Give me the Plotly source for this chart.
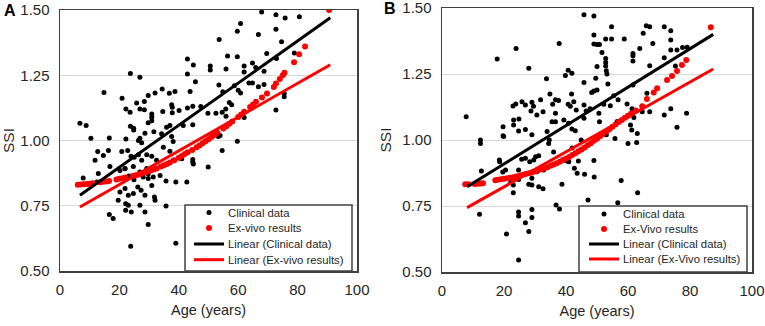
import plotly.graph_objects as go

W, H = 765, 326

# ---------------- Panel A data ----------------
a_clinical = [
    (67.9,1.492),(72.7,1.482),(75.8,1.469),(80.6,1.474),(60.8,1.448),(59.7,1.419),(72.7,1.426),
    (53.6,1.387),(66.8,1.406),(74.6,1.378),(69.6,1.333),(72.9,1.314),(78.9,1.335),(56.4,1.324),
    (59.7,1.321),(50.6,1.285),(50.6,1.270),(55.9,1.274),(62.0,1.285),(62.0,1.262),(64.8,1.297),
    (65.9,1.280),(68.7,1.265),(63.6,1.220),(64.8,1.220),(58.7,1.210),(66.8,1.206),(68.7,1.215),
    (54.8,1.187),(60.0,1.193),(60.8,1.182),(75.5,1.181),(75.5,1.168),(57.0,1.146),(57.8,1.137),
    (55.8,1.121),(72.7,1.117),(49.8,1.104),(52.5,1.104),(54.6,1.108),(55.9,1.093),(62.0,1.088),
    (59.7,0.997),(53.9,1.019),(53.5,1.213),
    (42.9,1.312),(44.9,1.289),(42.9,1.255),(23.7,1.257),(26.9,1.242),(45.6,1.225),(14.8,1.184),
    (20.9,1.162),(25.8,1.144),(28.4,1.149),(29.7,1.172),(32.0,1.182),(34.4,1.197),(36.8,1.181),
    (38.7,1.188),(43.8,1.188),(44.7,1.131),(47.4,1.130),(42.9,1.125),(37.6,1.137),(37.8,1.127),
    (34.6,1.111),(37.8,1.106),(40.1,1.115),(22.2,1.121),(23.6,1.108),(26.9,1.121),(28.4,1.118),
    (30.9,1.102),(30.9,1.089),(30.9,1.076),(29.7,1.068),(6.7,1.066),(8.8,1.057),(23.7,1.055),
    (24.8,1.047),(24.8,1.040),(28.6,1.028),(31.6,1.034),(35.9,1.051),(37.0,1.057),(41.5,1.057),
    (44.7,1.060),(10.4,1.009),(16.6,1.010),(22.2,1.006),(26.9,1.009),(34.2,1.026),(37.6,1.015),
    (26.4,1.000),(27.5,0.991),(34.8,0.974),(38.1,0.996),(12.7,0.958),(16.3,0.962),(11.8,0.924),
    (14.6,0.943),(20.8,0.958),(22.8,0.962),(23.9,0.940),(25.0,0.936),(26.4,0.945),(27.5,0.924),
    (29.2,0.945),(30.9,0.940),(32.5,0.924),(37.0,0.959),(41.0,0.930),(44.7,0.927),(44.7,0.917),
    (49.9,0.898),(7.8,0.856),(12.4,0.841),(20.2,0.885),(21.9,0.892),(23.2,0.864),(24.9,0.850),
    (26.9,0.879),(28.0,0.860),(29.7,0.873),(29.7,0.854),(31.4,0.860),(33.7,0.866),(35.7,0.845),
    (39.0,0.841),(42.7,0.841),(20.2,0.803),(21.9,0.816),(23.0,0.790),(24.7,0.797),(26.2,0.822),
    (27.3,0.809),(28.6,0.790),(30.9,0.828),(31.8,0.784),(32.0,0.771),(19.6,0.771),(22.1,0.758),
    (23.0,0.752),(22.1,0.733),(24.0,0.726),(26.9,0.752),(28.6,0.726),(35.7,0.749),(16.6,0.716),
    (17.9,0.701),(29.7,0.678),(23.8,0.595),(39.0,0.606),(38.1,0.924),(44.9,0.910),(54.6,0.962),
    (53.3,1.015),(16.8,0.900),(12.9,0.874),(21.9,0.893),(24.7,0.900),(29.2,0.893),
]
a_exvivo = [
    (6.0,0.830),(7.0,0.831),(8.0,0.832),(9.0,0.833),(10.0,0.834),(11.0,0.836),(13.5,0.840),
    (14.5,0.842),(15.5,0.843),(16.5,0.845),(19.0,0.851),(20.0,0.853),(21.0,0.855),(22.0,0.858),
    (24.5,0.864),(25.5,0.867),(26.5,0.870),(27.5,0.874),(28.5,0.877),(29.5,0.881),(30.5,0.885),
    (31.5,0.889),(32.5,0.893),(34.0,0.900),(35.0,0.905),(36.0,0.910),(37.0,0.916),(38.5,0.924),
    (40.0,0.934),(41.0,0.941),(42.0,0.948),(43.0,0.955),(44.5,0.964),(46.0,0.974),(47.0,0.981),
    (48.0,0.989),(49.0,0.997),(50.0,1.005),(51.0,1.013),(52.0,1.021),(53.0,1.030),(55.0,1.046),
    (56.0,1.055),(57.0,1.064),(58.0,1.073),(60.0,1.090),(61.0,1.100),(62.0,1.110),(64.0,1.128),
    (65.0,1.138),(66.0,1.148),(68.0,1.165),(69.7,1.180),(72.0,1.205),(72.7,1.218),(74.0,1.236),
    (75.0,1.250),(75.6,1.260),(78.8,1.300),(80.5,1.330),(82.5,1.360),(90.6,1.500),
]
a_fit_age = [6.7, 91.0]
a_fit_clinical = [0.79, 1.47]
a_fit_exvivo = [0.745, 1.29]

# ---------------- Panel B data ----------------
b_clinical = [
    (45.8,1.474),(49.0,1.470),(49.0,1.398),(23.9,1.347),(37.8,1.366),(17.8,1.307),(28.0,1.272),
    (49.0,1.364),(40.7,1.264),(41.9,1.253),(39.8,1.244),(33.7,1.232),(45.8,1.218),(49.6,1.234),
    (49.0,1.186),(48.3,1.180),(34.8,1.174),(41.8,1.174),(7.8,1.088),(23.8,1.136),(22.9,1.129),
    (25.8,1.145),(26.9,1.133),(29.0,1.143),(29.5,1.128),(31.8,1.152),(28.7,1.110),(30.6,1.095),
    (32.6,1.107),(35.7,1.135),(36.6,1.152),(37.6,1.150),(36.6,1.101),(40.7,1.135),(41.4,1.128),
    (42.5,1.145),(43.3,1.114),(45.8,1.133),(46.5,1.110),(47.8,1.118),(35.5,1.069),(36.6,1.069),
    (39.3,1.076),(40.8,1.063),(41.9,1.042),(43.0,1.035),(45.8,1.082),(23.1,1.076),(24.8,1.080),
    (23.1,1.057),(24.7,1.034),(26.9,1.040),(19.7,1.050),(19.7,1.016),(29.0,1.020),(33.9,1.032),
    (54.7,1.429),(65.9,1.433),(67.0,1.429),(71.7,1.429),(73.8,1.414),(64.9,1.404),(73.8,1.379),
    (52.8,1.383),(54.7,1.383),(58.8,1.383),(68.0,1.366),(50.0,1.362),(50.8,1.362),(63.8,1.347),
    (61.6,1.328),(61.6,1.319),(51.6,1.331),(73.8,1.341),(75.8,1.341),(77.6,1.350),(79.1,1.351),
    (71.7,1.312),(61.6,1.299),(52.8,1.309),(52.8,1.294),(52.8,1.280),(53.0,1.262),(53.2,1.250),
    (50.0,1.278),(67.0,1.281),(75.3,1.280),(53.5,1.212),(61.6,1.208),(50.0,1.189),(55.4,1.168),
    (56.8,1.152),(66.1,1.177),(59.7,1.136),(52.2,1.135),(54.3,1.130),(50.6,1.101),(61.3,1.118),
    (61.9,1.085),(64.6,1.107),(67.0,1.107),(71.7,1.095),(73.8,1.118),(78.9,1.101),(56.5,1.070),
    (60.8,1.057),(61.2,1.038),(63.0,1.025),(75.8,1.048),(55.8,1.006),(50.8,1.069),(53.0,1.020),
    (12.4,1.000),(12.4,0.987),(19.9,1.013),(18.5,0.924),(18.6,0.918),(12.7,0.883),(20.5,0.886),
    (24.7,0.886),(26.9,0.931),(28.3,0.918),(23.0,0.830),(23.0,0.800),(22.2,0.840),(24.7,0.850),
    (28.0,0.832),(29.0,0.855),(29.6,0.924),(30.2,0.937),(31.2,0.940),(30.6,0.880),(29.0,0.830),
    (31.2,0.823),(32.6,0.815),(32.8,0.886),(34.4,0.987),(34.6,1.000),(38.7,0.832),(39.8,0.924),
    (40.9,0.918),(42.7,0.893),(43.6,0.874),(46.0,0.870),(44.9,1.000),(49.0,0.922),(47.1,0.773),
    (12.1,0.719),(24.7,0.727),(24.7,0.712),(29.0,0.737),(29.0,0.706),(26.9,0.687),(28.0,0.653),
    (20.8,0.644),(36.8,0.754),(37.9,0.739),(24.7,0.545),(19.6,0.879),(49.1,0.860),(63.1,0.800),
    (57.8,0.847),(56.7,0.762),(60.0,0.987),(62.8,0.991),(25.7,0.927),(40.3,0.920),
    (44.0,0.920),(36.0,0.955),(42.0,0.970),
]
b_exvivo = [
    (7.5,0.832),(8.5,0.832),(10.5,0.833),(11.5,0.834),(12.5,0.835),(13.2,0.836),(17.2,0.848),
    (18.0,0.849),(19.0,0.851),(20.0,0.853),(21.0,0.855),(22.0,0.857),(23.0,0.859),(24.0,0.862),
    (25.0,0.865),(26.0,0.868),(27.0,0.871),(28.0,0.874),(29.0,0.877),(30.0,0.881),(31.0,0.885),
    (32.0,0.889),(33.0,0.893),(34.0,0.897),(35.0,0.902),(36.0,0.907),(37.0,0.912),(38.0,0.918),
    (39.0,0.924),(40.0,0.930),(41.0,0.936),(42.0,0.943),(43.0,0.950),(44.0,0.957),(45.0,0.964),
    (46.0,0.972),(47.0,0.980),(48.0,0.988),(49.0,0.997),(50.0,1.005),(51.0,1.014),(52.0,1.023),
    (53.0,1.032),(54.0,1.041),(55.0,1.050),(56.0,1.059),(57.0,1.068),(58.0,1.076),(59.0,1.084),
    (60.0,1.092),(61.0,1.100),(62.5,1.112),(64.6,1.128),(66.1,1.155),(68.3,1.180),(69.4,1.196),
    (72.6,1.227),(74.2,1.242),(75.8,1.261),(77.4,1.284),(78.8,1.303),(86.7,1.427),
]
b_fit_age = [8.1, 87.5]
b_fit_clinical = [0.823, 1.40]
b_fit_exvivo = [0.744, 1.269]

x_ticks = [0, 20, 40, 60, 80, 100]
y_ticks = [0.50, 0.75, 1.00, 1.25, 1.50]
a_legend_labels = ["Clinical data", "Ex-vivo results", "Linear (Clinical data)", "Linear (Ex-vivo results)"]
b_legend_labels = ["Clinical data", "Ex-Vivo results", "Linear (Clinical data)", "Linear (Ex-Vivo results)"]

FONT = "Liberation Sans, Arial, sans-serif"
TXT = "#262626"
FRAME = "#404040"


def unzip(pairs):
    return [p[0] for p in pairs], [p[1] for p in pairs]


fig = go.Figure()


def add_panel(xa, ya, labels, clinical, exvivo, fit_age, fit_clin, fit_ex):
    cx, cy = unzip(clinical)
    ex, ey = unzip(exvivo)
    fig.add_trace(go.Scatter(x=cx, y=cy, mode="markers", name=labels[0], showlegend=False,
                             marker=dict(color="black", size=5), xaxis=xa, yaxis=ya))
    fig.add_trace(go.Scatter(x=ex, y=ey, mode="markers", name=labels[1], showlegend=False,
                             marker=dict(color="#ff0000", size=6), xaxis=xa, yaxis=ya))
    fig.add_trace(go.Scatter(x=fit_age, y=fit_clin, mode="lines", name=labels[2], showlegend=False,
                             line=dict(color="black", width=3), xaxis=xa, yaxis=ya))
    fig.add_trace(go.Scatter(x=fit_age, y=fit_ex, mode="lines", name=labels[3], showlegend=False,
                             line=dict(color="#ff0000", width=3), xaxis=xa, yaxis=ya))


add_panel("x", "y", a_legend_labels, a_clinical, a_exvivo, a_fit_age, a_fit_clinical, a_fit_exvivo)
add_panel("x2", "y2", b_legend_labels, b_clinical, b_exvivo, b_fit_age, b_fit_clinical, b_fit_exvivo)


def xax(domain, anchor):
    return dict(domain=domain, anchor=anchor, range=[0, 100], tickvals=x_ticks, automargin=False,
                showgrid=False, zeroline=False, showline=True, mirror=True,
                linecolor=FRAME, linewidth=1.5, ticks="", ticklabelstandoff=4,
                ticklabeloverflow="allow",
                tickfont=dict(size=15, color=TXT, family=FONT),
                title=dict(text="Age (years)", font=dict(size=14.5, color=TXT, family=FONT), standoff=8))


def yax(domain, anchor):
    return dict(domain=domain, anchor=anchor, range=[0.5, 1.5], tickvals=y_ticks, automargin=False,
                tickformat=".2f", showgrid=True, gridcolor="#d9d9d9", gridwidth=1,
                zeroline=False, showline=True, mirror=True, linecolor=FRAME, linewidth=1.5,
                ticks="", ticklabelstandoff=6, ticklabeloverflow="allow",
                tickfont=dict(size=15, color=TXT, family=FONT),
                title=dict(text="SSI", font=dict(size=15.5, color=TXT, family=FONT), standoff=7))


def px_x(v):
    return v / W


def px_y(v):
    return 1 - v / H


shapes = []
annotations = []


def manual_legend(labels, box, rows, line_x, text_x):
    x0, y0, x1, y1 = box
    shapes.append(dict(type="rect", xref="paper", yref="paper", layer="above",
                       x0=px_x(x0), x1=px_x(x1), y0=px_y(y1), y1=px_y(y0),
                       line=dict(color=FRAME, width=1.5), fillcolor="white"))
    mid = (line_x[0] + line_x[1]) / 2
    for r, (col, d) in zip(rows[:2], [("black", 5), ("#ff0000", 6)]):
        shapes.append(dict(type="circle", xref="paper", yref="paper", layer="above",
                           x0=px_x(mid - d / 2), x1=px_x(mid + d / 2),
                           y0=px_y(r + d / 2), y1=px_y(r - d / 2),
                           line=dict(width=0), fillcolor=col))
    for r, col in zip(rows[2:], ["black", "#ff0000"]):
        shapes.append(dict(type="line", xref="paper", yref="paper", layer="above",
                           x0=px_x(line_x[0]), x1=px_x(line_x[1]), y0=px_y(r), y1=px_y(r),
                           line=dict(color=col, width=3)))
    for r, lab in zip(rows, labels):
        annotations.append(dict(text=lab, x=px_x(text_x), y=px_y(r), xref="paper", yref="paper",
                                xanchor="left", yanchor="middle", showarrow=False,
                                font=dict(size=11.3, color=TXT, family=FONT)))


manual_legend(a_legend_labels, (185, 205, 352, 271), [212.5, 228, 244, 259.7], (194, 224), 226)
manual_legend(b_legend_labels, (579, 206, 747, 272), [214, 229, 244, 259], (589, 619), 620.5)

annotations.append(dict(text="<b>A</b>", x=px_x(9.5), y=px_y(10.5), xref="paper", yref="paper",
                        xanchor="center", yanchor="middle",
                        showarrow=False, font=dict(size=16, color="black", family=FONT)))
annotations.append(dict(text="<b>B</b>", x=px_x(390), y=px_y(8.5), xref="paper", yref="paper",
                        xanchor="center", yanchor="middle",
                        showarrow=False, font=dict(size=16, color="black", family=FONT)))

fig.update_layout(
    template="none",
    width=W, height=H, margin=dict(l=0, r=0, t=0, b=0, pad=0),
    paper_bgcolor="white", plot_bgcolor="white",
    font=dict(family=FONT, color=TXT),
    xaxis=xax([60 / W, 357 / W], "y"),
    yaxis=yax([1 - 271 / H, 1 - 10 / H], "x"),
    xaxis2=xax([442 / W, 752 / W], "y2"),
    yaxis2=yax([1 - 272 / H, 1 - 8 / H], "x2"),
    showlegend=False,
    hovermode=False,
    shapes=shapes,
    annotations=annotations,
)

fig.write_html("out.html", config={"displayModeBar": False, "staticPlot": True},
               post_script="document.body.style.margin='0';document.body.style.padding='0';")
